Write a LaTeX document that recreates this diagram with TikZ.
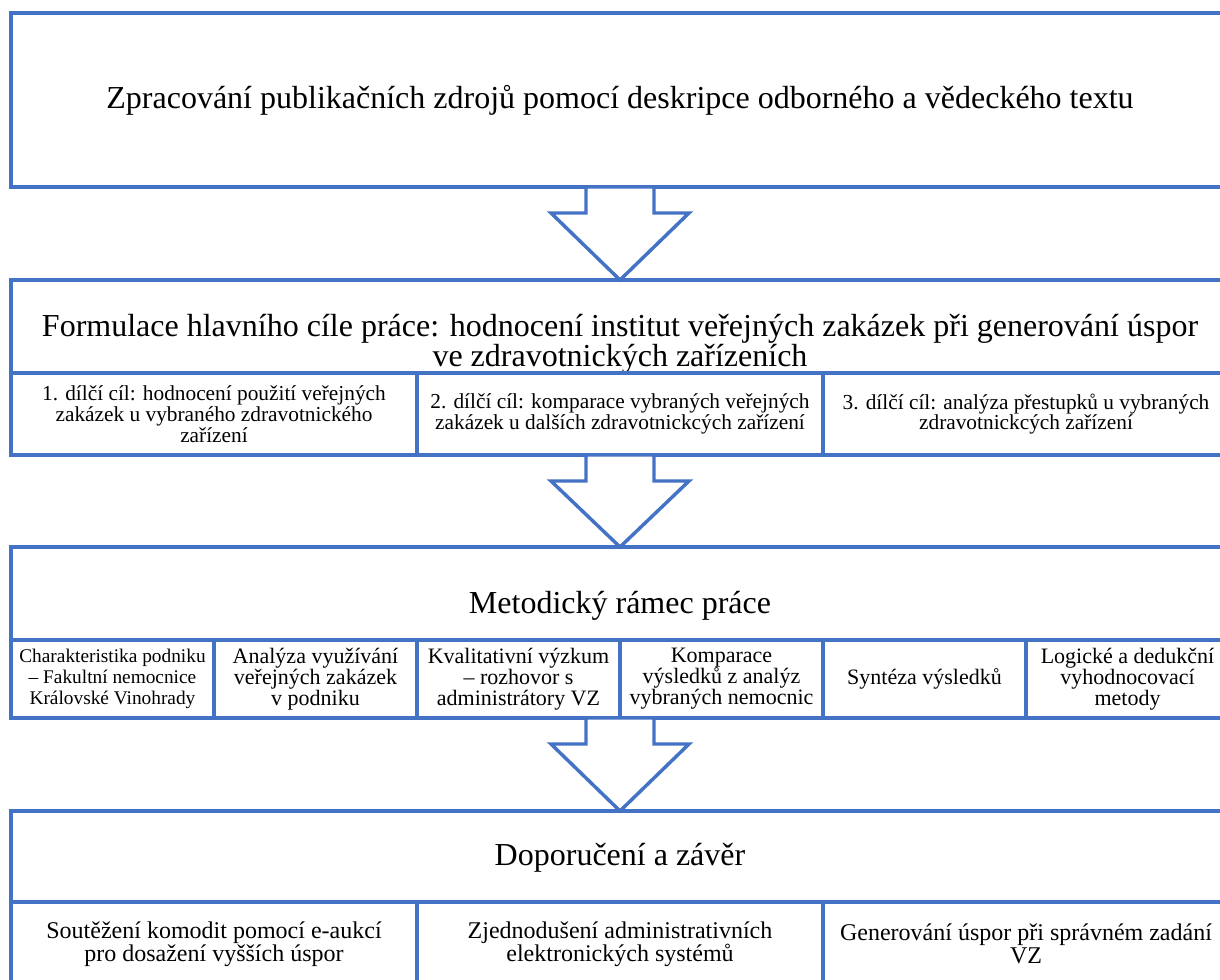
\documentclass[tikz,border=0pt]{standalone}
\usepackage{fontspec}
\setmainfont{Liberation Serif}
\usetikzlibrary{fit,calc}
\definecolor{bblue}{HTML}{4472C4}
\newcommand\blockarr[2]{\draw[blockarrow] ($(#1.south)+(-34,0)$) -- ++(0,26) -- ++(-35,0) -- (#2.north) -- ($(#1.south)+(69,26)$) -- ++(-35,0) -- ($(#1.south)+(34,0)$) -- cycle;}
\begin{document}
\begin{tikzpicture}[x=0.75pt,y=-0.75pt,
  frame/.style={draw=bblue,line width=2.6pt,inner sep=0pt,outer sep=0pt},
  txt/.style={align=center,inner sep=0pt},
  bigtxt/.style={txt,font=\fontsize{24}{22.5}\selectfont},
  goaltxt/.style={txt,font=\fontsize{16}{14.2}\selectfont},
  methtxt/.style={txt,font=\fontsize{16.5}{15.8}\selectfont},
  smalltxt/.style={txt,font=\fontsize{14.5}{15.5}\selectfont},
  recotxt/.style={txt,font=\fontsize{18}{17.2}\selectfont},
  blockarrow/.style={draw=bblue,line width=2.6pt,fill=white,line join=miter}]
\useasboundingbox (0,0) rectangle (1220,979);
% box 1
\node[frame,fit={(11,13)(1229,187)}] (f1) {};
\node[bigtxt] (t1) at (620,100) {Zpracování publikačních zdrojů pomocí deskripce odborného a vědeckého textu};
% box 2
\node[frame,fit={(11,280)(1229,455)}] (f2) {};
\node[frame,fit={(11,280)(1229,373)}] (h2) {};
\node[bigtxt] (t2) at (620,344) {Formulace hlavního cíle práce: hodnocení institut veřejných zakázek při generování úspor\\ve zdravotnických zařízeních};
\node[frame,fit={(11,373)(417,455)}] (c21) {};
\node[frame,fit={(417,373)(823,455)}] (c22) {};
\node[frame,fit={(823,373)(1229,455)}] (c23) {};
\node[goaltxt] (g1) at (c21.center) {1. dílčí cíl: hodnocení použití veřejných\\zakázek u vybraného zdravotnického\\zařízení};
\node[goaltxt] (g2) at (c22.center) {2. dílčí cíl: komparace vybraných veřejných\\zakázek u dalších zdravotnickcých zařízení};
\node[goaltxt] (g3) at (c23.center) {3. dílčí cíl: analýza přestupků u vybraných\\zdravotnickcých zařízení};
% box 3
\node[frame,fit={(11,547)(1229,718)}] (f3) {};
\node[frame,fit={(11,547)(1229,640)}] (h3) {};
\node[bigtxt] (t3) at (620,606) {Metodický rámec práce};
\node[frame,fit={(11,640)(214,718)}] (c31) {};
\node[frame,fit={(214,640)(417,718)}] (c32) {};
\node[frame,fit={(417,640)(620,718)}] (c33) {};
\node[frame,fit={(620,640)(823,718)}] (c34) {};
\node[frame,fit={(823,640)(1026,718)}] (c35) {};
\node[frame,fit={(1026,640)(1229,718)}] (c36) {};
\node[smalltxt] (m1) at (c31.center) {Charakteristika podniku\\– Fakultní nemocnice\\Královské Vinohrady};
\node[methtxt] (m2) at (c32.center) {Analýza využívání\\veřejných zakázek\\v podniku};
\node[methtxt] (m3) at (c33.center) {Kvalitativní výzkum\\– rozhovor s\\administrátory VZ};
\node[methtxt] (m4) at (c34.center) {Komparace\\výsledků z analýz\\vybraných nemocnic};
\node[methtxt] (m5) at (c35.center) {Syntéza výsledků};
\node[methtxt] (m6) at (c36.center) {Logické a dedukční\\vyhodnocovací\\metody};
% box 4
\node[frame,fit={(11,811)(1229,1000)}] (f4) {};
\node[frame,fit={(11,811)(1229,902)}] (h4) {};
\node[bigtxt] (t4) at (620,858) {Doporučení a závěr};
\node[frame,fit={(11,902)(417,1000)}] (c41) {};
\node[frame,fit={(417,902)(823,1000)}] (c42) {};
\node[frame,fit={(823,902)(1229,1000)}] (c43) {};
\node[recotxt] (r1) at (214,944) {Soutěžení komodit pomocí e-aukcí\\pro dosažení vyšších úspor};
\node[recotxt] (r2) at (620,944) {Zjednodušení administrativních\\elektronických systémů};
\node[recotxt] (r3) at (1026,944) {Generování úspor při správném zadání\\VZ};
% arrows
\blockarr{f1}{f2}
\blockarr{f2}{f3}
\blockarr{f3}{f4}
\end{tikzpicture}
\end{document}
